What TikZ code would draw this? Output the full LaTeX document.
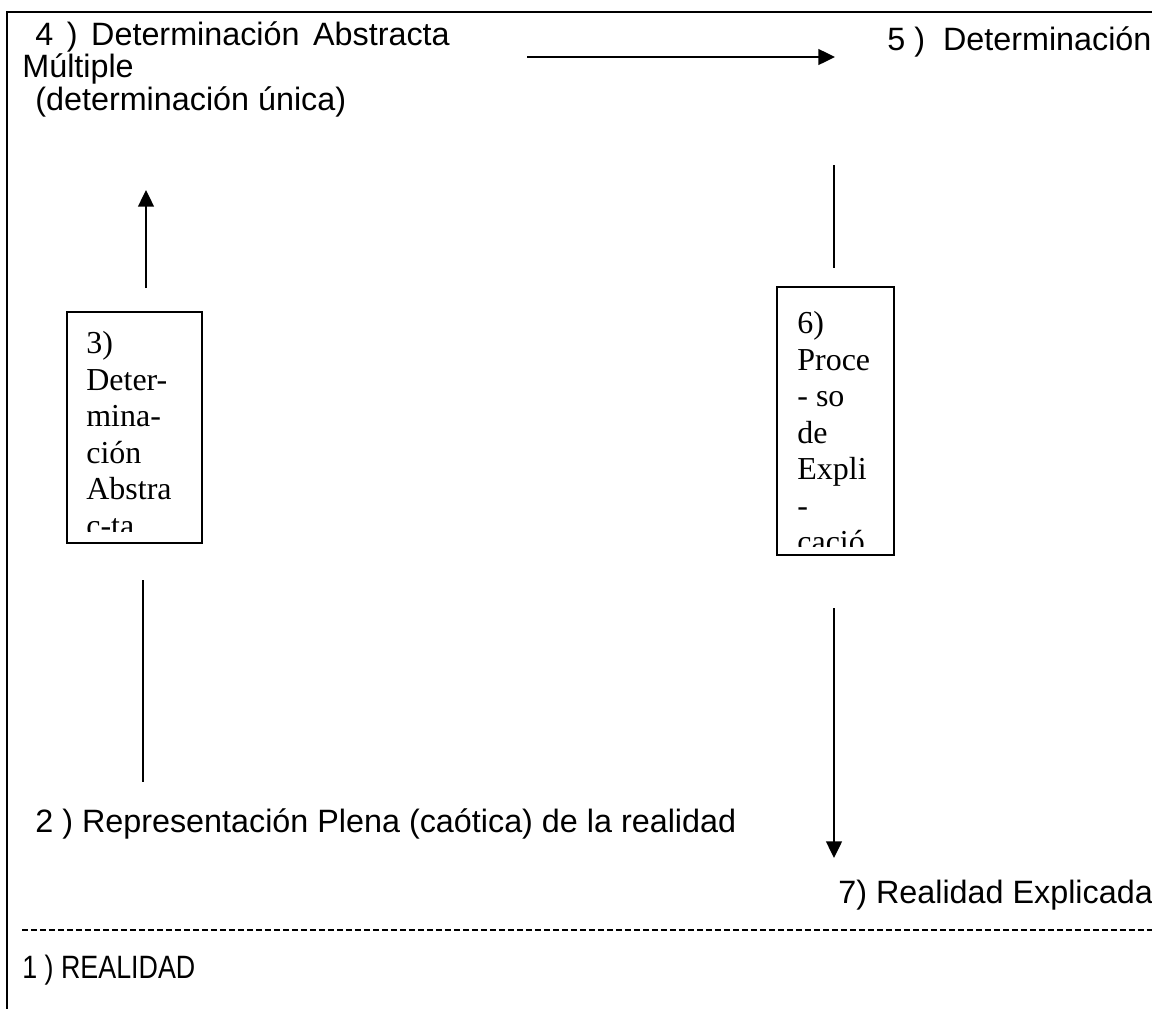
\documentclass[tikz,border=0pt]{standalone}
\usepackage{fontspec}
\setmainfont{Liberation Serif}
\setsansfont{Liberation Sans}
\usetikzlibrary{arrows.meta, positioning}

\begin{document}
\begin{tikzpicture}[
      x=0.02cm, y=-0.02cm,
      lbl/.style={anchor=base west, inner sep=0pt, font=\sffamily\fontsize{18.4}{17.2}\selectfont},
      caja/.style={draw, line width=0.9pt, inner sep=0pt, anchor=north west},
      cajatxt/.style={anchor=north west, inner sep=0pt, align=left, font=\rmfamily\fontsize{18.2}{20.8}\selectfont},
      arr/.style={-{Triangle[length=9.5pt, width=9pt]}, line width=1.15pt},
      linea/.style={line width=0.8pt}
    ]
      \useasboundingbox (0,0) rectangle (1152,1008);
      \clip (0,0) rectangle (1152,1008);

      % Marco
      \draw[line width=1.6pt] (7,12) rectangle (1170,1030);

      % 4) Determinacion abstracta multiple
      \node[lbl, align=left] (det4) at (22,110) {\makebox[8.55cm][s]{\hspace*{0.26cm}4 ) Determinación Abstracta}\\Múltiple\\\hspace*{0.26cm}(determinación única)};

      % 5) Determinacion
      \node[lbl] (det5) at (887,50) {5 )\ \ Determinación};

      % 3) caja
      \node[caja, minimum width=2.7cm, minimum height=4.62cm] (box3) at (66,311) {};
      \begin{scope}
        \clip (66,311) rectangle (201,531);
        \node[cajatxt] (txt3) at (86,331) {3)\\Deter-\\mina-\\ción\\Abstra\\c-ta};
      \end{scope}

      % 6) caja
      \node[caja, minimum width=2.34cm, minimum height=5.36cm] (box6) at (776,286) {};
      \begin{scope}
        \clip (776,286) rectangle (893,546);
        \node[cajatxt] (txt6) at (797,311) {6)\\Proce\\- so\\de\\Expli\\-\\cació};
      \end{scope}

      % 2), 7) y 1)
      \node[lbl] (rep2) at (35,832) {2 ) Representación Plena (caótica) de la realidad};
      \node[lbl] (real7) at (838,903) {7) Realidad Explicada};
      \node[lbl] (real1) at (22,978) {\scalebox{0.83}[1]{1 ) REALIDAD}};

      % Linea de trazos
      \draw[line width=1.3pt, dash pattern=on 0.12cm off 0.06cm] (22,930) -- (1160,930);

      % Extremos de las flechas
      \coordinate (h0) at (527,57);
      \coordinate (h1) at (835,57);
      \coordinate (up0) at (146,288);
      \coordinate (up1) at (146,190);
      \coordinate (l3a) at (143,580);
      \coordinate (l3b) at (143,782);
      \coordinate (l6a) at (834,165);
      \coordinate (l6b) at (834,268);
      \coordinate (dn0) at (834,608);
      \coordinate (dn1) at (834,858);

      % Flechas
      \draw[arr] (h0) -- (h1);
      \draw[arr] (up0) -- (up1);
      \draw[linea] (l3a) -- (l3b);
      \draw[linea] (l6a) -- (l6b);
      \draw[arr] (dn0) -- (dn1);
    \end{tikzpicture}
\end{document}
